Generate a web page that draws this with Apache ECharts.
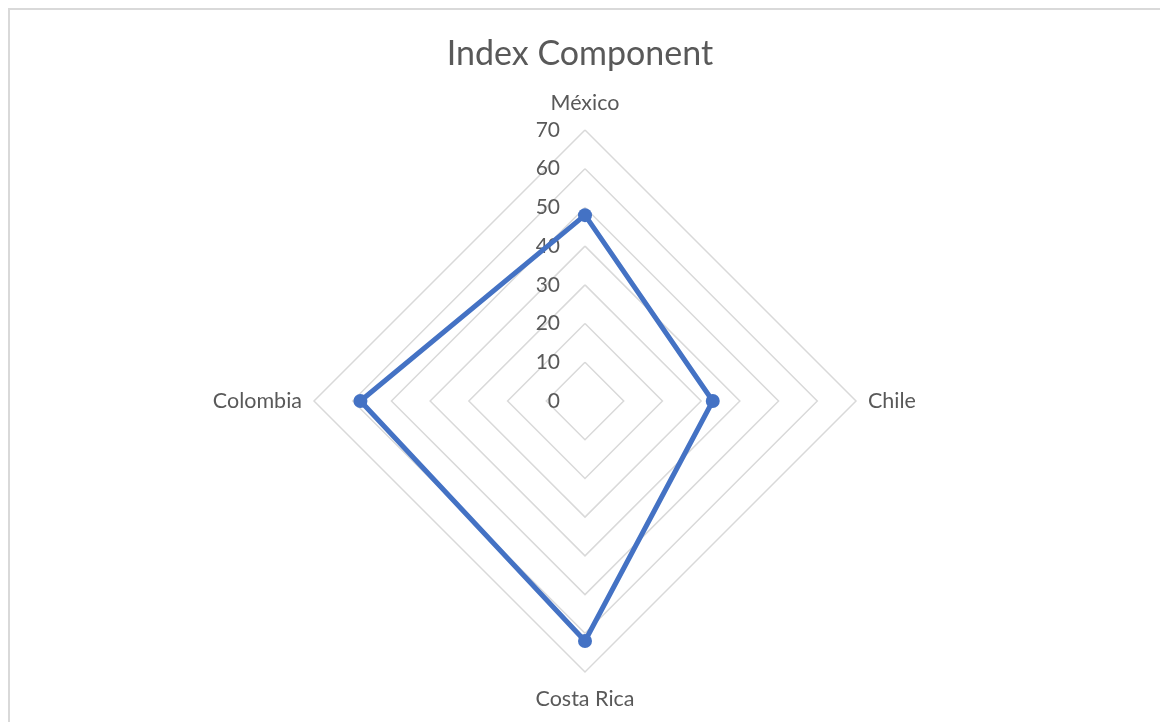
<!DOCTYPE html>
<html>
<head>
<meta charset="utf-8">
<script src="https://cdn.jsdelivr.net/npm/echarts@6/dist/echarts.min.js"></script>
<style>
  html, body { margin: 0; padding: 0; background: #fff; overflow: hidden; }
  #frame { position: absolute; left: 8px; top: 8px; width: 1300px; height: 900px; border: 2px solid #d9d9d9; box-sizing: border-box; }
  #chart { position: absolute; left: 0; top: 0; width: 1160px; height: 722px; }
</style>
</head>
<body>
<div id="frame"></div>
<div id="chart"></div>
<script>
// Indicators in ECharts radar order (top, then counter-clockwise: left, bottom, right)
const categories = ['México', 'Colombia', 'Costa Rica', 'Chile'];
const values = [48, 58, 62, 33];
const axisMin = 0;
const axisMax = 70;
const tickStep = 10;

const chart = echarts.init(document.getElementById('chart'));
const font = 'Lato, "Open Sans", sans-serif';
const vertical = { 'México': true, 'Costa Rica': true };
chart.setOption({
  animation: false,
  title: {
    text: 'Index Component',
    left: 'center',
    top: 32,
    textStyle: { fontFamily: font, fontSize: 34, fontWeight: 'normal', color: '#595959' }
  },
  radar: {
    center: [585, 401],
    radius: 271,
    startAngle: 90,
    shape: 'polygon',
    splitNumber: (axisMax - axisMin) / tickStep,
    nameGap: 12,
    axisName: { fontFamily: font, fontSize: 21.5, color: '#595959' },
    axisLine: { show: false },
    axisTick: { show: false },
    splitArea: { show: false },
    splitLine: { lineStyle: { color: '#d9d9d9', width: 1.5 } },
    axisLabel: { show: false },
    indicator: categories.map((c, i) => ({
      name: c, min: axisMin, max: axisMax,
      nameGap: vertical[c] ? 16 : 12,
      axisLabel: i === 0 ? { show: true, fontFamily: font, fontSize: 21, color: '#595959', margin: 25 } : { show: false }
    }))
  },
  series: [{
    type: 'radar',
    symbol: 'circle',
    symbolSize: 14,
    lineStyle: { color: '#4472C4', width: 5 },
    itemStyle: { color: '#4472C4' },
    data: [{ value: values, name: 'Index Component' }]
  }]
});
</script>
</body>
</html>
